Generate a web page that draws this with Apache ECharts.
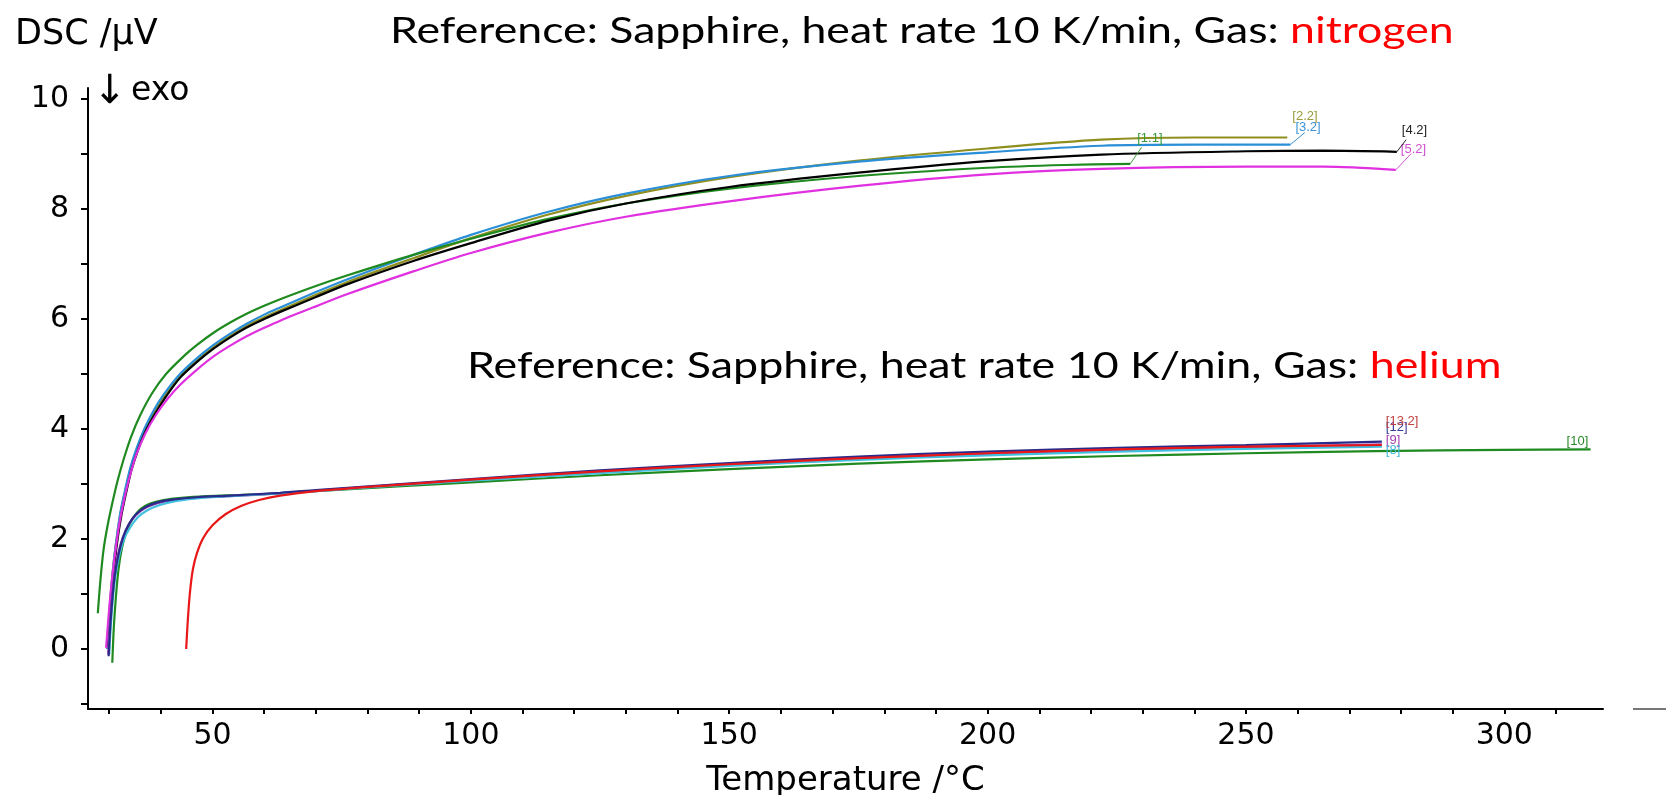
<!DOCTYPE html>
<html>
<head>
<meta charset="utf-8">
<script src="https://cdn.jsdelivr.net/npm/echarts@6/dist/echarts.min.js"></script>
<style>
html,body{margin:0;padding:0;background:#fff;}
#chart{width:1666px;height:795px;}
</style>
</head>
<body>
<div id="chart"></div>
<script>
// ---------- DATA ----------
// Nitrogen runs
const n22T = [29.6,30.0,30.4,30.9,31.5,32.2,33.1,34.1,35.3,36.8,38.5,40.5,43.7,47,50.2,53.5,56.7,60,63.1,70,76,89,100,115,130,150,175,200,222,240,258];
const n22V = [0.0,0.6,1.1,1.6,2.05,2.48,2.88,3.27,3.62,3.96,4.28,4.58,4.96,5.25,5.49,5.7,5.88,6.03,6.16,6.44,6.67,7.11,7.47,7.9,8.24,8.58,8.88,9.1,9.26,9.3,9.3];

const n32T = [29.6,30.0,30.4,30.9,31.5,32.2,33.1,34.1,35.3,36.8,38.5,40.5,43.7,47,50.2,53.5,56.7,60,63.1,70,76,89,100,115,130,150,175,200,222,240,258.6];
const n32V = [0.0,0.6,1.1,1.6,2.05,2.5,2.9,3.3,3.65,4.0,4.32,4.62,5.0,5.29,5.53,5.74,5.92,6.08,6.21,6.49,6.72,7.17,7.53,7.95,8.28,8.6,8.86,9.03,9.15,9.17,9.17];

const n42T = [29.8,30.2,30.6,31.1,31.7,32.4,33.3,34.3,35.5,37.0,38.7,40.7,43.7,47,50.2,53.5,56.7,60,63.1,70,76,89,100,115,130,150,175,200,222,250,265,279.2];
const n42V = [0.05,0.6,1.1,1.6,2.05,2.45,2.85,3.25,3.6,3.95,4.25,4.55,4.93,5.22,5.46,5.67,5.85,6.0,6.13,6.4,6.63,7.06,7.38,7.79,8.1,8.4,8.66,8.87,8.99,9.05,9.06,9.04];

const n52T = [29.4,29.8,30.2,30.7,31.3,32.0,32.9,34.0,35.3,37.0,39.0,41.3,43.7,47,50.2,53.5,56.7,60,63.1,70,76,89,100,115,130,150,175,200,222,250,265,279];
const n52V = [0.02,0.5,0.95,1.4,1.85,2.3,2.72,3.15,3.55,3.92,4.25,4.55,4.8,5.08,5.32,5.52,5.69,5.84,5.97,6.23,6.45,6.87,7.2,7.57,7.86,8.14,8.42,8.63,8.73,8.77,8.77,8.71];

const n11T = [27.8,28.3,28.9,29.7,30.6,31.6,32.8,34.2,36.0,38.3,41.0,44.5,47,50.2,53.5,56.7,60,63.1,70,76,89,100,115,130,150,175,200,215,227.6];
const n11V = [0.65,1.25,1.8,2.25,2.65,3.05,3.45,3.85,4.25,4.65,5.0,5.33,5.53,5.75,5.94,6.1,6.24,6.36,6.6,6.79,7.17,7.46,7.82,8.1,8.37,8.6,8.75,8.8,8.82];

// Helium runs
const hNavyT = [29.9,30.2,30.6,31.1,31.8,32.7,33.8,35.2,37,39.5,42.5,47,53.4,63.1,70,85,100,125,150,175,200,225,250,276.3];
const hNavyV = [-0.13,0.4,0.9,1.35,1.72,2.03,2.27,2.45,2.58,2.67,2.72,2.76,2.79,2.84,2.89,2.99,3.09,3.25,3.38,3.5,3.59,3.66,3.71,3.77];

const hPurpT = [29.8,30.1,30.5,31.0,31.7,32.6,33.7,35.1,36.9,39.4,42.5,47,53.4,63.1,70,85,100,125,150,175,200,225,250,276.3];
const hPurpV = [-0.1,0.4,0.9,1.35,1.72,2.02,2.25,2.43,2.56,2.65,2.71,2.75,2.78,2.83,2.88,2.98,3.07,3.22,3.35,3.46,3.55,3.62,3.67,3.72];

const hCyanT = [30.0,30.3,30.7,31.2,31.9,32.8,34.0,35.5,37.3,39.8,42.8,47,53.4,63.1,70,85,100,125,150,175,200,225,250,276.3];
const hCyanV = [-0.1,0.4,0.9,1.33,1.68,1.98,2.2,2.39,2.52,2.62,2.69,2.74,2.78,2.83,2.87,2.97,3.06,3.2,3.33,3.44,3.52,3.59,3.64,3.68];

const hRedT = [44.9,45.2,45.6,46.2,47,48.2,50,52.5,55.5,59,63.1,70,85,100,125,150,175,200,225,250,276.3];
const hRedV = [0.0,0.5,1.0,1.45,1.75,2.02,2.25,2.45,2.6,2.71,2.79,2.87,2.98,3.08,3.23,3.36,3.47,3.56,3.63,3.68,3.71];

const hGreenT = [30.6,30.9,31.3,31.8,32.5,33.4,34.6,36.0,37.8,40.5,44,49,55,63.1,75,100,125,150,175,200,225,250,275,300,316.7];
const hGreenV = [-0.25,0.4,0.95,1.45,1.85,2.15,2.38,2.54,2.64,2.71,2.75,2.78,2.8,2.83,2.9,3.03,3.16,3.27,3.37,3.45,3.51,3.56,3.6,3.62,3.63];

// Axis ticks / labels
const xLabels = [50,100,150,200,250,300];
const xTicks = [30,40,50,60,70,80,90,100,110,120,130,140,150,160,170,180,190,200,210,220,230,240,250,260,270,280,290,300,310];
const yLabels = [0,2,4,6,8,10];
const yTicks = [-1,0,1,2,3,4,5,6,7,8,9,10];

// Curve tags
const runs = [
  {tag:'[2.2]', T:n22T, V:n22V, color:'#8f8f1f', labelColor:'#9a9a3a', off:[-3,-21], lead:null},
  {tag:'[3.2]', T:n32T, V:n32V, color:'#2b8fd8', labelColor:'#3a93d8', off:[-3,-17], lead:[2.8,0.22]},
  {tag:'[1.1]', T:n11T, V:n11V, color:'#1f8a1f', labelColor:'#3a9a3a', off:[-1,-25], lead:[2.2,0.3]},
  {tag:'[4.2]', T:n42T, V:n42V, color:'#000000', labelColor:'#222222', off:[-3,-21], lead:[1.8,0.22]},
  {tag:'[5.2]', T:n52T, V:n52V, color:'#e030e0', labelColor:'#d050d0', off:[-3,-21], lead:[3.0,0.3]},
  {tag:'[10]',  T:hGreenT, V:hGreenV, color:'#1f8a1f', labelColor:'#2a8a2a', off:[-32,-8], lead:null},
  {tag:'[9]',   T:hPurpT, V:hPurpV, color:'#a040b0', labelColor:'#a040b0', off:[-4,-4], lead:null},
  {tag:'[8]',   T:hCyanT, V:hCyanV, color:'#40c0e0', labelColor:'#40b8d8', off:[-4,4], lead:null},
  {tag:'[12]',  T:hNavyT, V:hNavyV, color:'#2a2a8a', labelColor:'#3a3a9a', off:[-4,-14], lead:null},
  {tag:'[13.2]',T:hRedT, V:hRedV, color:'#e81818', labelColor:'#c04040', off:[-4,-24], lead:null}
];

const chart = echarts.init(document.getElementById('chart'), null, {renderer:'canvas'});
const series = runs.map(r => {
  const n = r.T.length;
  const s = {
    type:'line',
    name:r.tag,
    data:r.T.map((t,i)=>[t, r.V[i]]),
    showSymbol:false,
    smooth:0.3,
    lineStyle:{color:r.color, width:2.2},
    itemStyle:{color:r.color},
    endLabel:{show:true, formatter:r.tag, color:r.labelColor, fontSize:13, fontFamily:'Liberation Sans, Arial, sans-serif', offset:r.off},
    animation:false,
    z:2
  };
  if (r.lead) {
    s.markLine = {
      silent:true, symbol:['none','none'], label:{show:false},
      lineStyle:{color:r.labelColor, width:1, type:'solid'},
      data:[[{coord:[r.T[n-1], r.V[n-1]]},{coord:[r.T[n-1]+r.lead[0], r.V[n-1]+r.lead[1]]}]]
    };
  }
  return s;
});

const axisFont = 'DejaVu Sans';
chart.setOption({
  backgroundColor:'#ffffff',
  animation:false,
  grid:{left:88, right:63, top:88, bottom:86, containLabel:false, outerBoundsMode:'none'},
  xAxis:{
    type:'value', min:25.9, max:319.1,
    name:'Temperature /°C', nameLocation:'middle', nameGap:55,
    nameTextStyle:{fontFamily:axisFont, fontSize:34, color:'#000'},
    axisLine:{show:true, onZero:false, lineStyle:{color:'#000', width:2}},
    axisTick:{show:true, customValues:xTicks, length:5, lineStyle:{color:'#000', width:2}},
    axisLabel:{customValues:xLabels, fontFamily:axisFont, fontSize:30, color:'#000', margin:12},
    splitLine:{show:false}
  },
  yAxis:{
    type:'value', min:-1.09, max:10.2,
    axisLine:{show:true, onZero:false, lineStyle:{color:'#000', width:2}},
    axisTick:{show:true, customValues:yTicks, length:7, lineStyle:{color:'#000', width:2}},
    axisLabel:{customValues:yLabels, fontFamily:axisFont, fontSize:30, color:'#000', margin:19},
    splitLine:{show:false}
  },
  graphic:[
    {type:'text', x:15, y:17, style:{text:'DSC /µV', font:'35px "DejaVu Sans"', fill:'#000'}},
    {type:'text', x:93, y:73, style:{text:'↓', font:'40px "DejaVu Sans"', fill:'#000'}},
    {type:'text', x:131, y:75, style:{text:'exo', font:'33px "DejaVu Sans"', fill:'#000'}},
    {type:'text', x:390, y:13, scaleX:1.24, style:{rich:{a:{font:'36px Lato', fill:'#000'}, b:{font:'36px Lato', fill:'#ff0000'}}, text:'{a|Reference: Sapphire, heat rate 10 K/min, Gas: }{b|nitrogen}'}},
    {type:'text', x:467, y:348, scaleX:1.21, style:{rich:{a:{font:'37px Lato', fill:'#000'}, b:{font:'37px Lato', fill:'#ff0000'}}, text:'{a|Reference: Sapphire, heat rate 10 K/min, Gas: }{b|helium}'}},
    {type:'line', shape:{x1:1633, y1:709, x2:1666, y2:709}, style:{stroke:'#777', lineWidth:2}}
  ],
  series:series
});
</script>
</body>
</html>
